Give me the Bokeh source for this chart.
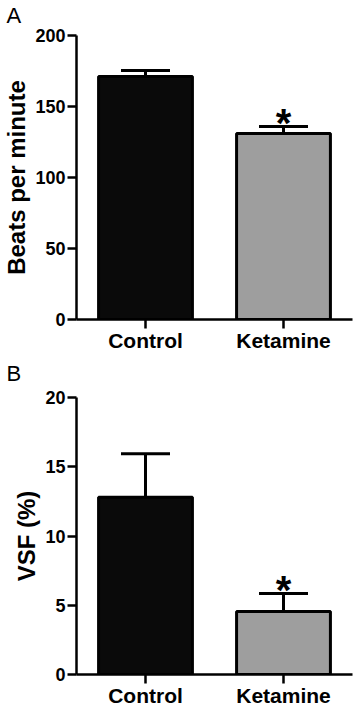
from bokeh.plotting import figure
from bokeh.models import ColumnDataSource, Whisker, TeeHead, FactorRange, FixedTicker, Title
from bokeh.layouts import column
from bokeh.embed import file_html
from bokeh.resources import INLINE
from bokeh.core.properties import value

categories = ["Control", "Ketamine"]
bpm_mean = [171.1, 131.0]
bpm_sem = [4.3, 4.9]
vsf_mean = [12.8, 4.55]
vsf_sem = [3.14, 1.29]
significance = ["", "*"]
bar_colors = ["#0a0a0a", "#9e9e9e"]
bpm_ticks = [0, 50, 100, 150, 200]
vsf_ticks = [0, 5, 10, 15, 20]

FONT = "Liberation Sans"
LEFT = 72
WIDTH = 358
FRAME_W = 280


def make_panel(letter, means, sems, ticks, ylabel, height, top_border, frame_h, spacer_px):
    src = ColumnDataSource(dict(
        x=categories,
        top=means,
        upper=[m + s for m, s in zip(means, sems)],
        color=bar_colors,
        sig=significance,
    ))
    p = figure(
        x_range=FactorRange(*categories, range_padding=0),
        y_range=(ticks[0], ticks[-1]),
        width=WIDTH, height=height,
        output_backend="svg", toolbar_location=None,
        min_border_left=LEFT, min_border_right=WIDTH - LEFT - FRAME_W,
        min_border_top=top_border,
        min_border_bottom=height - top_border - frame_h,
    )
    p.outline_line_color = None
    p.grid.visible = False
    p.background_fill_color = "white"

    # spacer between frame and panel letter, then the panel letter above it
    p.add_layout(Title(text=" ", text_font_size=f"{spacer_px}px", standoff=0), "above")
    p.add_layout(Title(text=letter, align="left", offset=-(LEFT - 2),
                       text_font=FONT, text_font_style="normal",
                       text_font_size="22px", text_color="black", standoff=0), "above")

    p.vbar(x="x", top="top", width=0.68, fill_color="color",
           line_color="black", line_width=3, source=src)

    w = Whisker(base="x", upper="upper", lower="top", source=src,
                line_width=3, line_color="black",
                upper_head=TeeHead(size=49, line_width=3, line_color="black"),
                lower_head=None, level="annotation")
    p.add_layout(w)

    p.text(x="x", y="upper", text="sig", source=src,
           text_font=value(FONT), text_font_style="bold",
           text_font_size="40px", text_align="center",
           text_baseline="alphabetic", y_offset=-4, text_color="black")

    for ax in (p.xaxis[0], p.yaxis[0]):
        ax.axis_line_width = 2.5
        ax.axis_line_color = "black"
        ax.major_tick_line_width = 2.5
        ax.major_tick_line_color = "black"
        ax.major_tick_in = 0
        ax.minor_tick_line_color = None
        ax.major_label_text_font = FONT
        ax.major_label_text_font_style = "bold"
        ax.major_label_text_color = "black"

    p.yaxis.ticker = FixedTicker(ticks=ticks)
    p.yaxis.major_tick_out = 9
    p.yaxis.major_label_standoff = 2
    p.yaxis.major_label_text_font_size = "18px"
    p.yaxis.axis_label = ylabel
    p.yaxis.axis_label_text_font = FONT
    p.yaxis.axis_label_text_font_style = "bold"
    p.yaxis.axis_label_text_font_size = "24px"
    p.yaxis.axis_label_text_color = "black"
    p.yaxis.axis_label_standoff = 2

    p.xaxis.major_tick_out = 9
    p.xaxis.major_label_standoff = 0
    p.xaxis.major_label_text_font_size = "21px"
    return p


pA = make_panel("A", bpm_mean, bpm_sem, bpm_ticks, "Beats per minute", 354, 35, 284, 5)
pB = make_panel("B", vsf_mean, vsf_sem, vsf_ticks, "VSF (%)", 355, 43, 280, 9)

layout = column(pA, pB, spacing=0)
open("out.html", "w").write(file_html(layout, INLINE))
